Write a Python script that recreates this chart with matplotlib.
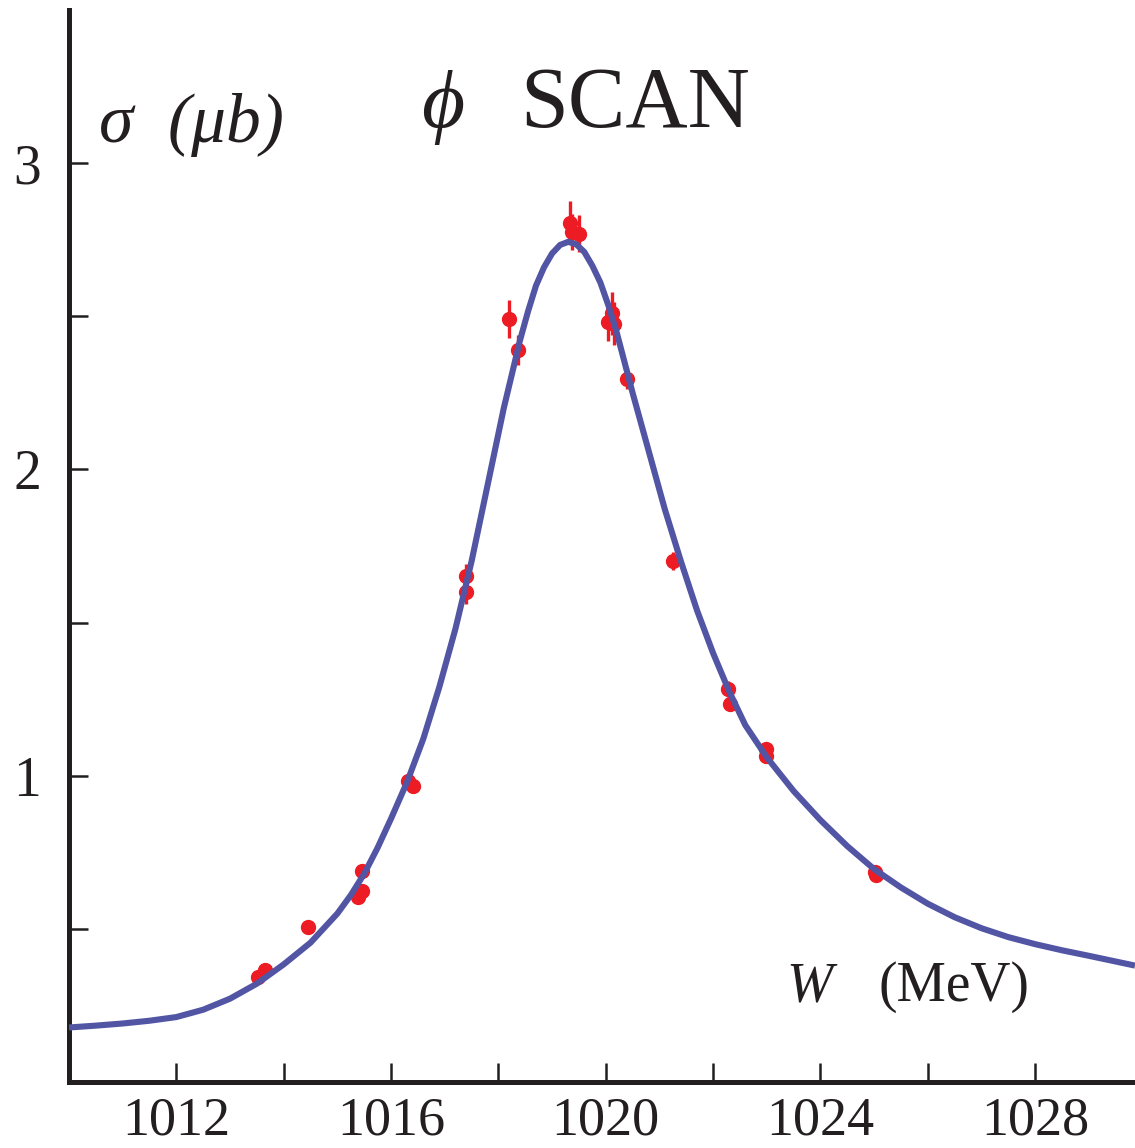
import matplotlib
matplotlib.use("Agg")
import matplotlib.pyplot as plt

# medidas del scan (W en MeV, sigma en microbarn)
scan_w = [1013.52, 1013.65, 1014.45, 1015.38, 1015.46, 1015.46, 1016.31, 1016.41,
          1017.39, 1017.39, 1018.19, 1018.36, 1019.33, 1019.37, 1019.50, 1020.04,
          1020.11, 1020.15, 1020.39, 1021.25, 1022.27, 1022.31, 1022.98, 1022.98,
          1025.01, 1025.04]
scan_sigma = [0.342, 0.365, 0.505, 0.603, 0.625, 0.69, 0.984, 0.967,
              1.652, 1.599, 2.49, 2.39, 2.805, 2.775, 2.77, 2.48,
              2.51, 2.475, 2.296, 1.70, 1.283, 1.235, 1.088, 1.065,
              0.687, 0.675]
scan_err = [0.015, 0.015, 0.02, 0.02, 0.02, 0.02, 0.02, 0.02,
            0.04, 0.04, 0.062, 0.05, 0.07, 0.06, 0.06, 0.06,
            0.07, 0.07, 0.035, 0.03, 0.025, 0.025, 0.02, 0.02,
            0.015, 0.015]

# curva del ajuste
curve_w = [1010.0, 1010.5, 1011.0, 1011.5, 1012.0, 1012.5, 1013.0, 1013.5,
           1014.0, 1014.5, 1015.0, 1015.25, 1015.5, 1015.75, 1016.0, 1016.3,
           1016.6, 1016.9, 1017.2, 1017.5, 1017.8, 1018.1, 1018.4, 1018.55,
           1018.7, 1018.85, 1019.0, 1019.15, 1019.3, 1019.45, 1019.6, 1019.75,
           1019.9, 1020.05, 1020.2, 1020.5, 1020.8, 1021.1, 1021.4, 1021.7,
           1022.0, 1022.3, 1022.6, 1023.0, 1023.5, 1024.0, 1024.5, 1025.0,
           1025.5, 1026.0, 1026.5, 1027.0, 1027.5, 1028.0, 1028.5, 1029.0,
           1029.86]
curve_sigma = [0.178, 0.184, 0.191, 0.200, 0.212, 0.236, 0.272, 0.321,
               0.384, 0.455, 0.55, 0.61, 0.68, 0.765, 0.86, 0.98,
               1.12, 1.29, 1.48, 1.70, 1.95, 2.20, 2.42, 2.515,
               2.60, 2.66, 2.705, 2.733, 2.743, 2.735, 2.71, 2.665,
               2.61, 2.535, 2.45, 2.25, 2.06, 1.87, 1.70, 1.54,
               1.40, 1.275, 1.165, 1.06, 0.95, 0.855, 0.77, 0.695,
               0.635, 0.582, 0.538, 0.502, 0.473, 0.45, 0.43, 0.412,
               0.38]

x_major = [1012, 1016, 1020, 1024, 1028]
x_minor = [1014, 1018, 1022, 1026]
y_major = [1, 2, 3]
y_minor = [0.5, 1.5, 2.5]

plt.rcParams["font.family"] = ["Liberation Serif", "DejaVu Serif"]
negro = "#231f20"

fig = plt.figure(figsize=(11.35, 11.48), dpi=100)
ax = fig.add_axes([0.0608, 0.0575, 0.9392, 0.9338])

ax.errorbar(scan_w, scan_sigma, yerr=scan_err, fmt="o", color="#ed1c24",
            ms=10, elinewidth=2.4, capsize=0, zorder=2)
ax.plot(curve_w, curve_sigma, color="#5155a4", lw=4.4, zorder=3,
        solid_capstyle="butt", solid_joinstyle="round")

ax.set_xlim(1010, 1029.86)
ax.set_ylim(0, 3.5)

for s in ["top", "right"]:
    ax.spines[s].set_visible(False)
for s in ["left", "bottom"]:
    ax.spines[s].set_linewidth(3.6)
    ax.spines[s].set_color(negro)

ax.set_xticks(x_major)
ax.set_xticks(x_minor, minor=True)
ax.set_yticks(y_major)
ax.set_yticks(y_minor, minor=True)
ax.tick_params(which="both", direction="in", length=14, width=1.8, color=negro)
ax.tick_params(axis="x", labelsize=39, pad=10, labelcolor=negro)
ax.tick_params(axis="y", labelsize=40, pad=20, labelcolor=negro)

# textos
ax.text(1010.55, 3.07, "σ  (μb)", fontsize=50, style="italic", color=negro,
        ha="left", va="baseline")
ax.text(1016.55, 3.117, "ϕ", fontsize=60, style="italic", color=negro,
        ha="left", va="baseline")
ax.text(1018.4, 3.117, "SCAN", fontsize=62, color=negro, ha="left", va="baseline")
ax.text(1023.36, 0.264, "W", fontsize=40, style="italic", color=negro,
        ha="left", va="baseline")
ax.text(1025.08, 0.264, "(MeV)", fontsize=40, color=negro, ha="left", va="baseline")

fig.savefig("out.png", dpi=100, facecolor="white")
